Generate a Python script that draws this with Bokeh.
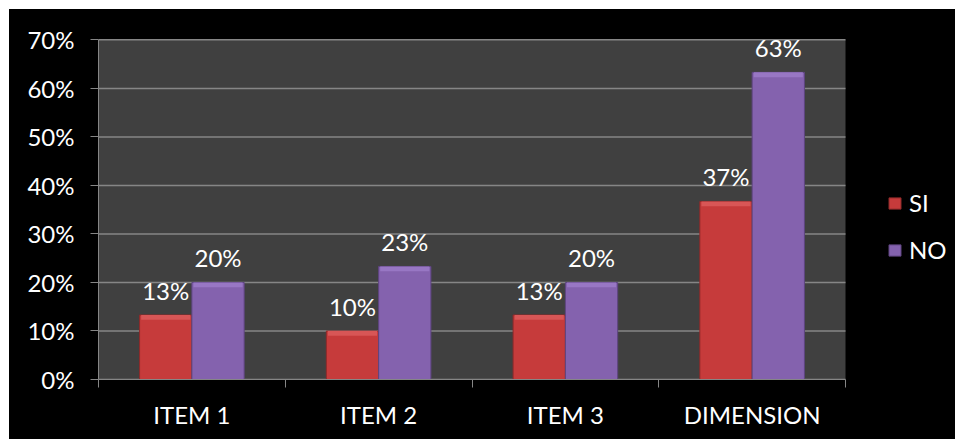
from bokeh.plotting import figure
from bokeh.models import (ColumnDataSource, FixedTicker, NumeralTickFormatter, Legend, LegendItem, Range1d)
from bokeh.core.properties import value
from bokeh.embed import file_html
from bokeh.resources import INLINE

categories = ["ITEM 1", "ITEM 2", "ITEM 3", "DIMENSION"]
si_values = [0.133, 0.10, 0.133, 0.367]
no_values = [0.20, 0.233, 0.20, 0.633]
si_labels = ["13%", "10%", "13%", "37%"]
no_labels = ["20%", "23%", "20%", "63%"]
y_ticks = [0, 0.1, 0.2, 0.3, 0.4, 0.5, 0.6, 0.7]

FONT = "Lato"
RED, RED_LIGHT, RED_DARK = "#C63B3B", "#D85656", "#8E2A2A"
PUR, PUR_LIGHT, PUR_DARK = "#8462AE", "#9877C4", "#5E4580"
GRID = "#868686"

n = len(categories)
centers = [i + 0.5 for i in range(n)]
bw = 0.28
si_x = [c - bw / 2 for c in centers]
no_x = [c + bw / 2 for c in centers]

# frame spans the plot area (747 px) plus the legend zone (110 px) to the right
plot_px, frame_px = 747, 857
x_end = n * frame_px / plot_px
y_top = y_ticks[-1] * 1.004  # tiny headroom so the 70% grid line is not clipped

p = figure(width=946, height=430, output_backend="svg", toolbar_location=None,
           x_range=Range1d(0, x_end), y_range=Range1d(0, y_top),
           min_border_left=89, min_border_top=29, min_border_right=0, min_border_bottom=60,
           styles={"background-color": "#000000"})
p.margin = (9, 0, 0, 9)
p.background_fill_color = "#000000"
p.border_fill_color = None
p.outline_line_color = None
p.title.visible = False

# plot area background and grid lines (limited to the categories' extent)
p.quad(left=[0], right=[n], bottom=[0], top=[y_ticks[-1]], fill_color="#404040", line_color=None)
p.segment(x0=[0] * len(y_ticks), x1=[n] * len(y_ticks), y0=y_ticks, y1=y_ticks,
          line_color=GRID, line_width=1.5)

src_si = ColumnDataSource(dict(x=si_x, top=si_values, lab=si_labels,
                               band=[v - min(0.01, v * 0.15) for v in si_values]))
src_no = ColumnDataSource(dict(x=no_x, top=no_values, lab=no_labels,
                               band=[v - min(0.01, v * 0.15) for v in no_values]))

r_si = p.vbar(x="x", top="top", bottom=0, width=bw, source=src_si,
              fill_color=RED, line_color=RED_DARK, line_width=1)
r_no = p.vbar(x="x", top="top", bottom=0, width=bw, source=src_no,
              fill_color=PUR, line_color=PUR_DARK, line_width=1)
# bevel highlight on top
p.vbar(x="x", top="top", bottom="band", width=bw * 0.94, source=src_si,
       fill_color=RED_LIGHT, line_color=None)
p.vbar(x="x", top="top", bottom="band", width=bw * 0.94, source=src_no,
       fill_color=PUR_LIGHT, line_color=None)

for src in (src_si, src_no):
    p.text(x="x", y="top", text="lab", source=src, y_offset=-10,
           text_align="center", text_baseline="bottom", text_color="white",
           text_font=value(FONT), text_font_size="24px")

# axes
p.yaxis.ticker = FixedTicker(ticks=y_ticks)
p.yaxis.formatter = NumeralTickFormatter(format="0%")
p.yaxis.bounds = (0, y_ticks[-1])
p.yaxis.axis_line_color = GRID
p.yaxis.major_tick_line_color = GRID
p.yaxis.major_tick_out = 8
p.yaxis.major_tick_in = 0
p.yaxis.minor_tick_line_color = None
p.yaxis.major_label_standoff = 16
p.yaxis.major_label_text_color = "white"
p.yaxis.major_label_text_font = FONT
p.yaxis.major_label_text_font_size = "24px"

p.xaxis.ticker = FixedTicker(ticks=centers, minor_ticks=list(range(n + 1)))
p.xaxis.bounds = (0, n)
p.xaxis.major_label_overrides = {c: lab for c, lab in zip(centers, categories)}
p.xaxis.axis_line_color = GRID
p.xaxis.major_tick_line_color = None
p.xaxis.minor_tick_line_color = GRID
p.xaxis.minor_tick_out = 8
p.xaxis.minor_tick_in = 0
p.xaxis.major_label_standoff = 12
p.xaxis.major_label_text_color = "white"
p.xaxis.major_label_text_font = FONT
p.xaxis.major_label_text_font_size = "24px"

p.xgrid.grid_line_color = None
p.ygrid.grid_line_color = None

legend = Legend(items=[LegendItem(label="SI", renderers=[r_si]),
                       LegendItem(label="NO", renderers=[r_no])],
                location=(789, 115), orientation="vertical",
                background_fill_alpha=0, border_line_color=None,
                padding=0, margin=0, spacing=18,
                glyph_width=15, glyph_height=14,
                label_standoff=7,
                label_text_color="white", label_text_font=FONT,
                label_text_font_size="24px")
p.add_layout(legend, "center")

open("out.html", "w").write(file_html(p, INLINE))
